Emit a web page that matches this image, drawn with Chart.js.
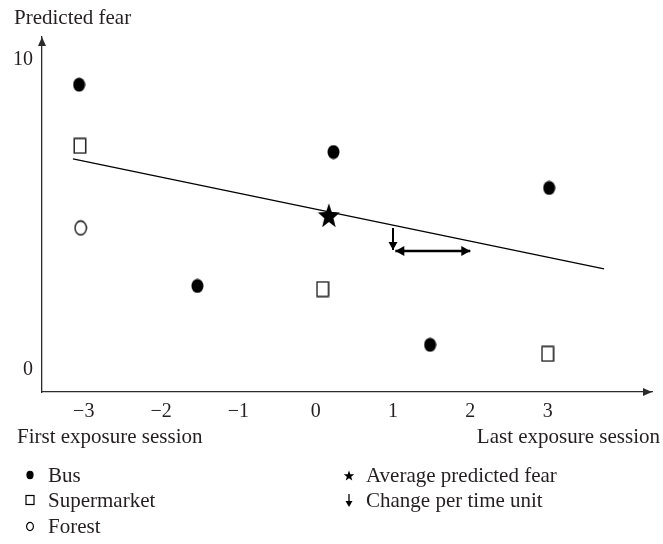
<!DOCTYPE html>
<html>
<head>
<meta charset="utf-8">
<script src="https://cdn.jsdelivr.net/npm/chart.js@4/dist/chart.umd.min.js"></script>
<style>
  html, body { margin: 0; padding: 0; background: #fff; }
  #wrap { position: relative; width: 663px; height: 544px; font-family: "Liberation Serif", serif; color: #231f20; }
  #wrap canvas { position: absolute; left: 0; top: 0; }
  .t { position: absolute; white-space: nowrap; font-size: 21px; line-height: 21px; }
  .lg { position: absolute; white-space: nowrap; font-size: 21px; line-height: 21px; }
  .mk { position: absolute; }
</style>
</head>
<body>
<div id="wrap">
  <canvas id="chart" width="663" height="544"></canvas>
  <div class="t" style="left:14px; top:7px;">Predicted fear</div>
  <div class="t" style="left:17px; top:426px;">First exposure session</div>
  <div class="t" style="right:3px; top:426px;">Last exposure session</div>

  <svg class="mk" style="left:24px; top:467px;" width="12" height="16"><ellipse cx="6" cy="8" rx="3.6" ry="4.2" fill="#000"/></svg>
  <div class="lg" style="left:48px; top:465px;">Bus</div>
  <svg class="mk" style="left:24px; top:492px;" width="12" height="16"><rect x="2" y="3.5" width="8" height="9" fill="none" stroke="#000" stroke-width="1.2"/></svg>
  <div class="lg" style="left:48px; top:490px;">Supermarket</div>
  <svg class="mk" style="left:24px; top:518px;" width="12" height="16"><ellipse cx="6" cy="8.5" rx="3.4" ry="4.2" fill="none" stroke="#000" stroke-width="1.2"/></svg>
  <div class="lg" style="left:48px; top:516px;">Forest</div>

  <svg class="mk" style="left:342px; top:467px;" width="14" height="16"><polygon id="lgstar" fill="#000"/></svg>
  <div class="lg" style="left:366px; top:465px;">Average predicted fear</div>
  <svg class="mk" style="left:342px; top:492px;" width="14" height="16"><line x1="7" y1="2" x2="7" y2="10" stroke="#000" stroke-width="1.3"/><polygon points="3.5,9 10.5,9 7,15" fill="#000"/></svg>
  <div class="lg" style="left:366px; top:490px;">Change per time unit</div>
</div>
<script>
// values
const X_TICKS = [-3, -2, -1, 0, 1, 2, 3];
const Y_TICKS = [0, 10];
const X_MIN = -3.54, X_MAX = 4.35;
const Y_MIN = -0.71, Y_MAX = 10.74;

const BUS_X = [-3.06, -1.53, 0.23, 1.48, 3.02];
const BUS_Y = [9.2, 2.71, 7.03, 0.81, 5.87];
const SUPER_X = [-3.05, 0.09, 3.0];
const SUPER_Y = [7.23, 2.61, 0.52];
const FOREST_X = [-3.04];
const FOREST_Y = [4.58];
const AVG_X = [0.17];
const AVG_Y = [5.0];
const TREND_X = [-3.14, 3.73];
const TREND_Y = [6.81, 3.26];
const CHANGE_X = [1.0, 1.0];
const CHANGE_Y = [4.58, 3.87];
const SPAN_X = [1.03, 2.0];
const SPAN_Y = [3.84, 3.84];

const INK = '#000';
const AXIS = '#2b2b2b';
const TXT = '#231f20';

const pts = (xs, ys) => xs.map((x, i) => ({ x, y: ys[i] }));

function marker(w, h, draw) {
  const c = document.createElement('canvas');
  c.width = w; c.height = h;
  draw(c.getContext('2d'), w, h);
  return c;
}

function starPath(g, cx, cy, r, sy) {
  g.beginPath();
  for (let i = 0; i < 10; i++) {
    const rr = i % 2 ? r * 0.42 : r;
    const a = -Math.PI / 2 + i * Math.PI / 5;
    const px = cx + rr * Math.cos(a), py = cy + rr * Math.sin(a) * sy;
    i ? g.lineTo(px, py) : g.moveTo(px, py);
  }
  g.closePath();
}

const dotImg = marker(13, 15, (g, w, h) => {
  g.fillStyle = INK;
  g.beginPath(); g.ellipse(w / 2, h / 2, 6, 7, 0, 0, Math.PI * 2); g.fill();
});
const squareImg = marker(14, 17, (g, w, h) => {
  g.strokeStyle = '#222'; g.lineWidth = 1.5;
  g.strokeRect(1.25, 1.25, w - 2.5, h - 2.5);
});
const ringImg = marker(14, 17, (g, w, h) => {
  g.strokeStyle = INK; g.lineWidth = 1.3;
  g.beginPath(); g.ellipse(w / 2, h / 2, 5.7, 7, 0, 0, Math.PI * 2); g.stroke();
});
const starImg = marker(24, 28, (g, w, h) => {
  g.fillStyle = INK;
  starPath(g, w / 2, h / 2 + 1.5, 11.5, 1.15);
  g.fill();
});

// legend star
(function () {
  const p = [];
  for (let i = 0; i < 10; i++) {
    const rr = i % 2 ? 2.3 : 5.5;
    const a = -Math.PI / 2 + i * Math.PI / 5;
    p.push((7 + rr * Math.cos(a)).toFixed(2) + ',' + (9 + rr * Math.sin(a)).toFixed(2));
  }
  document.getElementById('lgstar').setAttribute('points', p.join(' '));
})();

function fmt(v) {
  return v < 0 ? '\u2212' + Math.abs(v) : String(v);
}

function head(ctx, x, y, dx, dy, len, half) {
  const nx = -dy, ny = dx;
  ctx.beginPath();
  ctx.moveTo(x, y);
  ctx.lineTo(x - dx * len + nx * half, y - dy * len + ny * half);
  ctx.lineTo(x - dx * len - nx * half, y - dy * len - ny * half);
  ctx.closePath();
  ctx.fill();
}

const arrowPlugin = {
  id: 'arrows',
  afterDraw(chart) {
    const ctx = chart.ctx;
    const a = chart.chartArea;
    ctx.save();
    ctx.fillStyle = AXIS;
    head(ctx, a.left, a.top, 0, -1, 9, 4);
    head(ctx, a.right, a.bottom, 1, 0, 9, 4);
    ctx.fillStyle = INK;
    chart.data.datasets.forEach((ds, i) => {
      if (!ds.arrow) return;
      const el = chart.getDatasetMeta(i).data;
      const p0 = el[0], p1 = el[el.length - 1];
      const L = Math.hypot(p1.x - p0.x, p1.y - p0.y);
      const dx = (p1.x - p0.x) / L, dy = (p1.y - p0.y) / L;
      head(ctx, p1.x, p1.y, dx, dy, ds.headLen, ds.headHalf);
      if (ds.arrow === 'both') head(ctx, p0.x, p0.y, -dx, -dy, ds.headLen, ds.headHalf);
    });
    ctx.restore();
  }
};

const tickFont = { family: 'Liberation Serif', size: 20 };

new Chart(document.getElementById('chart'), {
  type: 'scatter',
  data: {
    datasets: [
      { label: 'Trend', data: pts(TREND_X, TREND_Y), showLine: true, borderColor: INK, borderWidth: 1.3, pointRadius: 0 },
      { label: 'Change', data: pts(CHANGE_X, CHANGE_Y), showLine: true, borderColor: INK, borderWidth: 2, pointRadius: 0,
        arrow: 'end', headLen: 8, headHalf: 4.5 },
      { label: 'Span', data: pts(SPAN_X, SPAN_Y), showLine: true, borderColor: INK, borderWidth: 2.5, pointRadius: 0,
        arrow: 'both', headLen: 9, headHalf: 5 },
      { label: 'Bus', data: pts(BUS_X, BUS_Y), pointStyle: dotImg, pointRadius: 6 },
      { label: 'Supermarket', data: pts(SUPER_X, SUPER_Y), pointStyle: squareImg, pointRadius: 6 },
      { label: 'Forest', data: pts(FOREST_X, FOREST_Y), pointStyle: ringImg, pointRadius: 6 },
      { label: 'Average predicted fear', data: pts(AVG_X, AVG_Y), pointStyle: starImg, pointRadius: 10 },
    ],
  },
  options: {
    responsive: false,
    animation: false,
    devicePixelRatio: 1,
    layout: { padding: { top: 37, right: 8, left: 0, bottom: 122 } },
    plugins: { legend: { display: false }, tooltip: { enabled: false } },
    scales: {
      x: {
        type: 'linear', min: X_MIN, max: X_MAX,
        afterBuildTicks: s => { s.ticks = X_TICKS.map(v => ({ value: v })); },
        afterFit: s => { s.height = 30; },
        grid: { display: false, drawTicks: false },
        border: { display: true, color: AXIS, width: 1.3 },
        ticks: { padding: 8, color: TXT, font: tickFont, maxRotation: 0, autoSkip: false, callback: v => fmt(v) },
      },
      y: {
        type: 'linear', min: Y_MIN, max: Y_MAX,
        afterBuildTicks: s => { s.ticks = Y_TICKS.map(v => ({ value: v })); },
        afterFit: s => { s.width = 42; },
        grid: { display: false, drawTicks: false },
        border: { display: true, color: AXIS, width: 1.3 },
        ticks: { padding: 9, color: TXT, font: tickFont, autoSkip: false, callback: v => fmt(v) },
      },
    },
  },
  plugins: [arrowPlugin],
});
</script>
</body>
</html>
